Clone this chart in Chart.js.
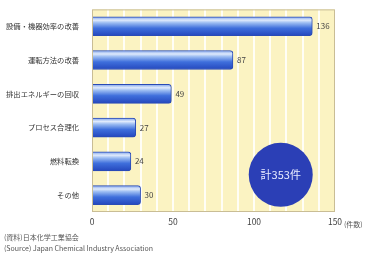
<!DOCTYPE html>
<html><head><meta charset="utf-8">
<script src="https://cdn.jsdelivr.net/npm/chart.js@4"></script>
<style>
html,body{margin:0;padding:0;background:#fff;}
#wrap{position:relative;width:379px;height:257px;}
canvas{position:absolute;left:0;top:0;}
.src{position:absolute;left:4px;font-family:"Noto Sans CJK JP","Noto Sans",sans-serif;font-size:7px;color:#555;white-space:nowrap;line-height:9px;}
</style></head>
<body>
<div id="wrap">
<canvas id="c" width="379" height="257"></canvas>
<div class="src" style="top:233px">(資料)日本化学工業協会</div>
<div class="src" style="top:244px">(Source) Japan Chemical Industry Association</div>
</div>
<script>
const categories = ["設備・機器効率の改善","運転方法の改善","排出エネルギーの回収","プロセス合理化","燃料転換","その他"];
const values = [136, 87, 49, 27, 24, 30];
const xTickLabels = [0, 50, 100, 150];
const unitLabel = "(件数)";
const totalLabel = "計353件";

const FONT = '"Noto Sans CJK JP","Noto Sans",sans-serif';
const BAR_T = 19;

function barFill(ctx){
  const chart = ctx.chart;
  const ys = chart.scales.y;
  if(!ys || ctx.dataIndex === undefined) return '#3a64d8';
  const cy = ys.getPixelForValue(ctx.dataIndex);
  if(!isFinite(cy)) return '#3a64d8';
  const g = chart.ctx.createLinearGradient(0, cy - BAR_T/2, 0, cy + BAR_T/2);
  g.addColorStop(0, '#7fa3ea');
  g.addColorStop(0.18, '#dfeafc');
  g.addColorStop(0.32, '#9bbcf2');
  g.addColorStop(0.6, '#3f6fdc');
  g.addColorStop(1, '#2447bd');
  return g;
}

const bgPlugin = {
  id:'bg',
  beforeDraw(chart){
    const {ctx, chartArea:a} = chart;
    ctx.save();
    ctx.fillStyle = '#fbf3c2';
    ctx.fillRect(a.left, a.top, a.right-a.left, a.bottom-a.top);
    ctx.restore();
  },
  afterDatasetsDraw(chart){
    const {ctx, chartArea:a} = chart;
    ctx.save();
    ctx.strokeStyle = '#c9bd95';
    ctx.lineWidth = 1;
    ctx.strokeRect(a.left+0.5, a.top+0.5, a.right-a.left-1, a.bottom-a.top-1);
    const meta = chart.getDatasetMeta(0);
    ctx.fillStyle = '#444';
    ctx.font = '8px ' + FONT;
    ctx.textBaseline = 'middle';
    ctx.textAlign = 'left';
    meta.data.forEach((bar, i) => {
      ctx.fillText(String(values[i]), bar.x + 4, bar.y);
    });
    const xs = chart.scales.x, ys = chart.scales.y;
    const cx = xs.getPixelForValue(116.5);
    const cy = ys.getPixelForValue(4.4);
    ctx.beginPath();
    ctx.arc(cx, cy, 32, 0, Math.PI*2);
    ctx.fillStyle = '#2b3fb6';
    ctx.fill();
    ctx.fillStyle = '#e8ecff';
    ctx.font = '11px ' + FONT;
    ctx.textAlign = 'center';
    ctx.fillText(totalLabel, cx, cy);
    ctx.fillStyle = '#555';
    ctx.font = '7px ' + FONT;
    ctx.textAlign = 'left';
    ctx.fillText(unitLabel, xs.getPixelForValue(150) + 9, a.bottom + 12);
    ctx.restore();
  }
};

const chart = new Chart(document.getElementById('c'), {
  type:'bar',
  data:{
    labels: categories,
    datasets:[{
      data: values,
      backgroundColor: barFill,
      borderColor: '#2a4bb5',
      borderWidth: 1,
      borderSkipped: 'left',
      borderRadius: {topRight:3, bottomRight:3},
      barThickness: BAR_T
    }]
  },
  options:{
    indexAxis:'y',
    responsive:false,
    animation:false,
    layout:{padding:{top:8, right:44, left:0, bottom:0}},
    plugins:{legend:{display:false}, tooltip:{enabled:false}},
    scales:{
      x:{
        min:0, max:150,
        afterFit(s){ s.height = 45; },
        afterBuildTicks(s){ s.ticks = []; for(let v=0; v<=150; v+=10) s.ticks.push({value:v}); },
        ticks:{
          autoSkip:false, maxRotation:0, padding:5,
          color:'#444', font:{family:FONT, size:8.5},
          callback(v){ return xTickLabels.includes(v) ? String(v) : ''; }
        },
        grid:{color:'rgba(255,255,255,0.85)', lineWidth:2, drawTicks:false},
        border:{display:false}
      },
      y:{
        afterFit(s){ s.width = 92; },
        ticks:{color:'#333', font:{family:FONT, size:7.3}, padding:5},
        grid:{display:false},
        border:{display:false}
      }
    }
  },
  plugins:[bgPlugin]
});
chart.update('none');
</script>
</body></html>
